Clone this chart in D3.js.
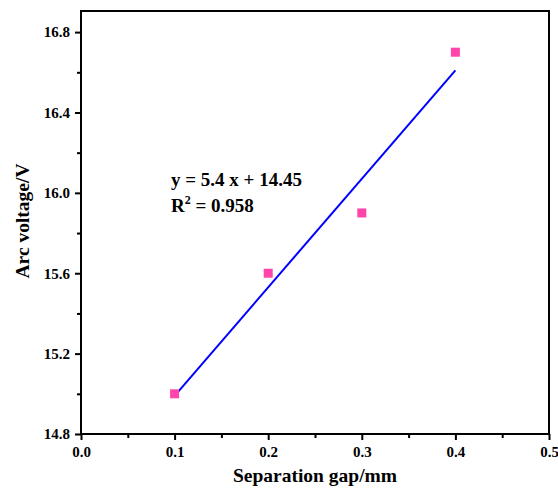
<!DOCTYPE html>
<html>
<head>
<meta charset="utf-8">
<script src="https://d3js.org/d3.v7.min.js"></script>
<style>
  body { margin: 0; background: #fff; }
  text { font-family: "Liberation Serif", "Times New Roman", serif; font-weight: bold; }
</style>
</head>
<body>
<svg id="chart" width="558" height="491"></svg>
<script>
// data
var gaps = [0.1, 0.2, 0.3, 0.4];
var voltages = [15.0, 15.6, 15.9, 16.7];
var xTicks = [0.0, 0.1, 0.2, 0.3, 0.4, 0.5];
var xMinor = [0.05, 0.15, 0.25, 0.35, 0.45];
var yTicks = [14.8, 15.2, 15.6, 16.0, 16.4, 16.8];
var yMinor = [15.0, 15.4, 15.8, 16.2, 16.6];
var fitSlope = 5.4, fitIntercept = 14.45;
var eqText = "y = 5.4 x + 14.45";

var svg = d3.select("#chart");
var pLeft = 81, pRight = 549, pTop = 11, pBottom = 434;

var x = d3.scaleLinear().domain([0, 0.5]).range([pLeft, pRight]);
var y = d3.scaleLinear().domain([14.8, 16.905]).range([pBottom, pTop]);

function styleAxis(g) {
  g.attr("font-size", 15).attr("font-family", "Liberation Serif").attr("font-weight", "bold");
  g.select(".domain").remove();
  g.selectAll(".tick line").attr("stroke", "#000").attr("stroke-width", 2);
  g.selectAll(".tick text").attr("fill", "#000").style("font-size", "15px");
}

// x axis
svg.append("g").attr("transform", "translate(0," + pBottom + ")")
  .call(d3.axisBottom(x).tickValues(xMinor).tickSize(4).tickFormat(""))
  .call(styleAxis);
svg.append("g").attr("transform", "translate(0," + pBottom + ")")
  .call(d3.axisBottom(x).tickValues(xTicks).tickSize(6).tickPadding(6).tickFormat(d3.format(".1f")))
  .call(styleAxis);
// y axis
svg.append("g").attr("transform", "translate(" + pLeft + ",0)")
  .call(d3.axisLeft(y).tickValues(yMinor).tickSize(4).tickFormat(""))
  .call(styleAxis);
svg.append("g").attr("transform", "translate(" + pLeft + ",0)")
  .call(d3.axisLeft(y).tickValues(yTicks).tickSize(6).tickPadding(5).tickFormat(d3.format(".1f")))
  .call(styleAxis);

// frame
svg.append("rect")
  .attr("x", pLeft).attr("y", pTop)
  .attr("width", pRight - pLeft).attr("height", pBottom - pTop)
  .attr("fill", "none").attr("stroke", "#000").attr("stroke-width", 2);

// fit line
svg.append("line")
  .attr("x1", x(0.1)).attr("y1", y(fitSlope * 0.1 + fitIntercept))
  .attr("x2", x(0.4)).attr("y2", y(fitSlope * 0.4 + fitIntercept))
  .attr("stroke", "#0000ff").attr("stroke-width", 2);

// points
svg.selectAll("rect.pt")
  .data(gaps.map(function(g, i){ return {x: g, y: voltages[i]}; }))
  .enter().append("rect")
  .attr("class", "pt")
  .attr("x", function(d){ return x(d.x) - 4.5; })
  .attr("y", function(d){ return y(d.y) - 4.5; })
  .attr("width", 9).attr("height", 9)
  .attr("fill", "#ff44aa");

// equation
svg.append("text").attr("x", 171).attr("y", 186).style("font-size", "19px").text(eqText);
var r2 = svg.append("text").attr("x", 171).attr("y", 212).style("font-size", "19px");
r2.append("tspan").text("R");
r2.append("tspan").attr("dy", -8).style("font-size", "12px").text("2");
r2.append("tspan").attr("dy", 8).text(" = 0.958");

// axis titles
svg.append("text")
  .attr("x", 315).attr("y", 482)
  .attr("text-anchor", "middle").style("font-size", "19.5px")
  .text("Separation gap/mm");
svg.append("text")
  .attr("transform", "translate(29,221) rotate(-90)")
  .attr("text-anchor", "middle").style("font-size", "19.5px")
  .text("Arc voltage/V");
</script>
</body>
</html>
